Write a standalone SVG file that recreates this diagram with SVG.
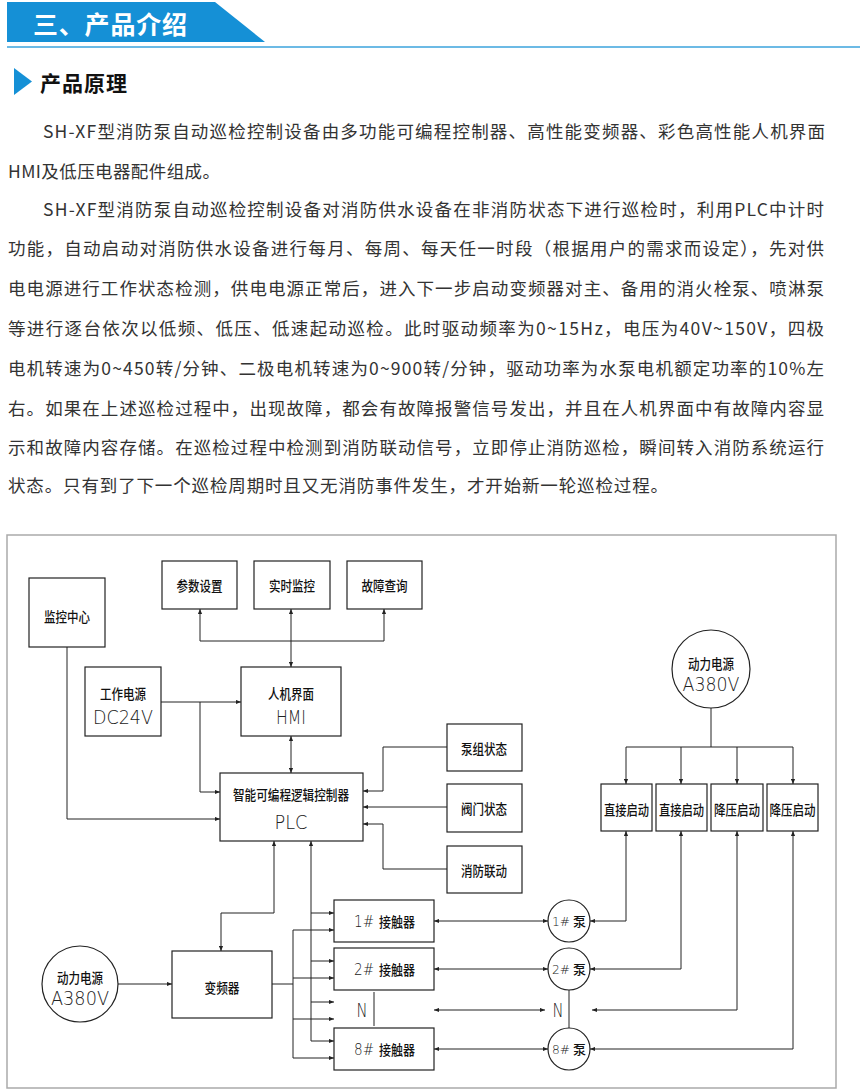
<svg xmlns="http://www.w3.org/2000/svg" width="860" height="1090" viewBox="0 0 860 1090">
<style>
.para{font-family:"Noto Sans CJK SC","Noto Sans",sans-serif;font-size:17.5px;fill:#333;dominant-baseline:central}
.box{fill:#fff;stroke:#222;stroke-width:1.2}
.cn{font-family:"Noto Sans CJK SC",sans-serif;font-size:14px;fill:#111;text-anchor:middle;dominant-baseline:central;font-weight:500}
.cs{font-family:"Noto Sans CJK SC",sans-serif;font-size:14px;fill:#111;dominant-baseline:central;font-weight:500}
.ps{font-family:"Noto Sans CJK SC",sans-serif;font-size:13px;fill:#111;dominant-baseline:central;font-weight:500}
.lat{font-family:"DejaVu Sans","Liberation Sans",sans-serif;font-size:20px;fill:#222;text-anchor:middle;dominant-baseline:central;font-weight:200}
.num{font-family:"DejaVu Sans","Liberation Sans",sans-serif;font-size:16px;fill:#222;dominant-baseline:central;font-weight:200}
.pn{font-family:"DejaVu Sans","Liberation Sans",sans-serif;font-size:13px;fill:#222;dominant-baseline:central;font-weight:200}
.ln{fill:none;stroke:#222;stroke-width:1}
</style>
<defs>
<marker id="ar" viewBox="0 0 6 6" markerWidth="6" markerHeight="5" refX="6" refY="3" orient="auto-start-reverse" markerUnits="userSpaceOnUse">
<path d="M0,0.5 L6,3 L0,5.5 z" fill="#222"/>
</marker>
</defs>
<rect width="860" height="1090" fill="#fff"/>
<g id="header">
<polygon points="7,2 215,2 265,42 7,42" fill="#1590d6"/>
<line x1="7" y1="47" x2="860" y2="47" stroke="#3ba3dc" stroke-width="1.6"/>
<text x="33" y="23" font-family="Noto Sans CJK SC,sans-serif" font-size="25" font-weight="bold" fill="#fff" dominant-baseline="central" textLength="154">三、产品介绍</text>
<polygon points="14,68 32,81.5 14,95" fill="#1590d6"/>
<text x="40" y="82" font-family="Noto Sans CJK SC,sans-serif" font-size="21" font-weight="bold" fill="#111" dominant-baseline="central" textLength="87">产品原理</text>
</g>
<g id="paragraph">
<text class="para" x="43" y="130" textLength="782" lengthAdjust="spacing">SH-XF型消防泵自动巡检控制设备由多功能可编程控制器、高性能变频器、彩色高性能人机界面</text>
<text class="para" x="8" y="170" textLength="212" lengthAdjust="spacing">HMI及低压电器配件组成。</text>
<text class="para" x="43" y="208" textLength="781" lengthAdjust="spacing">SH-XF型消防泵自动巡检控制设备对消防供水设备在非消防状态下进行巡检时，利用PLC中计时</text>
<text class="para" x="8" y="247" textLength="816" lengthAdjust="spacing">功能，自动启动对消防供水设备进行每月、每周、每天任一时段（根据用户的需求而设定），先对供</text>
<text class="para" x="8" y="287" textLength="816" lengthAdjust="spacing">电电源进行工作状态检测，供电电源正常后，进入下一步启动变频器对主、备用的消火栓泵、喷淋泵</text>
<text class="para" x="8" y="327" textLength="816" lengthAdjust="spacing">等进行逐台依次以低频、低压、低速起动巡检。此时驱动频率为0~15Hz，电压为40V~150V，四极</text>
<text class="para" x="8" y="367" textLength="816" lengthAdjust="spacing">电机转速为0~450转/分钟、二极电机转速为0~900转/分钟，驱动功率为水泵电机额定功率的10%左</text>
<text class="para" x="8" y="407" textLength="816" lengthAdjust="spacing">右。如果在上述巡检过程中，出现故障，都会有故障报警信号发出，并且在人机界面中有故障内容显</text>
<text class="para" x="8" y="446" textLength="816" lengthAdjust="spacing">示和故障内容存储。在巡检过程中检测到消防联动信号，立即停止消防巡检，瞬间转入消防系统运行</text>
<text class="para" x="8" y="484" textLength="660" lengthAdjust="spacing">状态。只有到了下一个巡检周期时且又无消防事件发生，才开始新一轮巡检过程。</text>
</g>
<rect id="frame" x="7" y="535" width="829" height="553" fill="none" stroke="#aaa" stroke-width="1.5"/>
<g id="connectors">
<line class="ln" x1="291" y1="609" x2="291" y2="667" marker-start="url(#ar)" marker-end="url(#ar)"/>
<polyline class="ln" points="200,609 200,641 384,641 384,609" marker-start="url(#ar)" marker-end="url(#ar)"/>
<line class="ln" x1="161" y1="702" x2="241" y2="702" marker-end="url(#ar)"/>
<polyline class="ln" points="200,702 200,792 220,792" marker-end="url(#ar)"/>
<polyline class="ln" points="67,647 67,819 220,819" marker-end="url(#ar)"/>
<line class="ln" x1="291" y1="736" x2="291" y2="773" marker-start="url(#ar)" marker-end="url(#ar)"/>
<polyline class="ln" points="447,747 383,747 383,791 363,791" marker-end="url(#ar)"/>
<line class="ln" x1="447" y1="807" x2="363" y2="807" marker-end="url(#ar)"/>
<polyline class="ln" points="447,869 383,869 383,824 363,824" marker-end="url(#ar)"/>
<polyline class="ln" points="274,841 274,913 221,913 221,951" marker-start="url(#ar)" marker-end="url(#ar)"/>
<polyline class="ln" points="311,841 311,1041 334,1041" marker-start="url(#ar)" marker-end="url(#ar)"/>
<line class="ln" x1="311" y1="913" x2="334" y2="913" marker-end="url(#ar)"/>
<line class="ln" x1="311" y1="961" x2="334" y2="961" marker-end="url(#ar)"/>
<line class="ln" x1="311" y1="1002" x2="334" y2="1002" marker-end="url(#ar)"/>
<line class="ln" x1="272" y1="984" x2="293" y2="984"/>
<line class="ln" x1="293" y1="930" x2="293" y2="1058"/>
<line class="ln" x1="293" y1="930" x2="334" y2="930" marker-end="url(#ar)"/>
<line class="ln" x1="293" y1="978" x2="334" y2="978" marker-end="url(#ar)"/>
<line class="ln" x1="293" y1="1019" x2="334" y2="1019" marker-end="url(#ar)"/>
<line class="ln" x1="293" y1="1058" x2="334" y2="1058" marker-end="url(#ar)"/>
<line class="ln" x1="118" y1="984" x2="172" y2="984" marker-end="url(#ar)"/>
<line class="ln" x1="434" y1="921" x2="548" y2="921" marker-start="url(#ar)" marker-end="url(#ar)"/>
<line class="ln" x1="434" y1="969" x2="548" y2="969" marker-start="url(#ar)" marker-end="url(#ar)"/>
<line class="ln" x1="434" y1="1010" x2="545" y2="1010" marker-start="url(#ar)" marker-end="url(#ar)"/>
<line class="ln" x1="434" y1="1049" x2="548" y2="1049" marker-start="url(#ar)" marker-end="url(#ar)"/>
<polyline class="ln" points="626,831 626,921 590,921" marker-start="url(#ar)" marker-end="url(#ar)"/>
<polyline class="ln" points="681,831 681,969 590,969" marker-start="url(#ar)" marker-end="url(#ar)"/>
<polyline class="ln" points="737,831 737,1010 592,1010" marker-start="url(#ar)" marker-end="url(#ar)"/>
<polyline class="ln" points="793,831 793,1049 590,1049" marker-start="url(#ar)" marker-end="url(#ar)"/>
<line class="ln" x1="711" y1="708" x2="711" y2="747"/>
<line class="ln" x1="626" y1="747" x2="793" y2="747"/>
<line class="ln" x1="626" y1="747" x2="626" y2="784" marker-end="url(#ar)"/>
<line class="ln" x1="681" y1="747" x2="681" y2="784" marker-end="url(#ar)"/>
<line class="ln" x1="737" y1="747" x2="737" y2="784" marker-end="url(#ar)"/>
<line class="ln" x1="793" y1="747" x2="793" y2="784" marker-end="url(#ar)"/>
<line class="ln" x1="374" y1="992" x2="374" y2="1026"/>
<line class="ln" x1="569" y1="990" x2="569" y2="1028"/>
</g>
<g id="n-param"><rect class="box" x="162" y="561" width="75" height="48"/><text class="cn" x="199.5" y="585" textLength="46" lengthAdjust="spacingAndGlyphs">参数设置</text></g>
<g id="n-monitor"><rect class="box" x="254" y="561" width="76" height="48"/><text class="cn" x="292" y="585" textLength="46" lengthAdjust="spacingAndGlyphs">实时监控</text></g>
<g id="n-fault"><rect class="box" x="347" y="561" width="75" height="48"/><text class="cn" x="384.5" y="585" textLength="46" lengthAdjust="spacingAndGlyphs">故障查询</text></g>
<g id="n-center"><rect class="box" x="29" y="578" width="76" height="69"/><text class="cn" x="67" y="616" textLength="46" lengthAdjust="spacingAndGlyphs">监控中心</text></g>
<g id="n-dc"><rect class="box" x="85" y="667" width="76" height="69"/><text class="cn" x="123" y="693" textLength="46" lengthAdjust="spacingAndGlyphs">工作电源</text><text class="lat" x="123" y="717" textLength="60" lengthAdjust="spacingAndGlyphs">DC24V</text></g>
<g id="n-hmi"><rect class="box" x="241" y="667" width="100" height="69"/><text class="cn" x="291" y="693" textLength="46" lengthAdjust="spacingAndGlyphs">人机界面</text><text class="lat" x="291" y="717" textLength="30" lengthAdjust="spacingAndGlyphs">HMI</text></g>
<g id="n-plc"><rect class="box" x="220" y="773" width="143" height="68"/><text class="cn" x="291" y="794" textLength="116" lengthAdjust="spacingAndGlyphs">智能可编程逻辑控制器</text><text class="lat" x="291" y="822" textLength="33" lengthAdjust="spacingAndGlyphs">PLC</text></g>
<g id="n-pumpstate"><rect class="box" x="447" y="724" width="75" height="47"/><text class="cn" x="484" y="748" textLength="46" lengthAdjust="spacingAndGlyphs">泵组状态</text></g>
<g id="n-valve"><rect class="box" x="447" y="784" width="75" height="48"/><text class="cn" x="484" y="808" textLength="46" lengthAdjust="spacingAndGlyphs">阀门状态</text></g>
<g id="n-fire"><rect class="box" x="447" y="846" width="75" height="47"/><text class="cn" x="484" y="870" textLength="46" lengthAdjust="spacingAndGlyphs">消防联动</text></g>
<g id="n-vfd"><rect class="box" x="172" y="951" width="100" height="67"/><text class="cn" x="222" y="987" textLength="35" lengthAdjust="spacingAndGlyphs">变频器</text></g>
<g id="n-power-left"><circle class="box" cx="80" cy="984" r="38"/><text class="cn" x="80" y="977" textLength="46" lengthAdjust="spacingAndGlyphs">动力电源</text><text class="lat" x="80" y="998" textLength="58" lengthAdjust="spacingAndGlyphs">A380V</text></g>
<g id="n-power-right"><circle class="box" cx="711" cy="669" r="39"/><text class="cn" x="711" y="663" textLength="46" lengthAdjust="spacingAndGlyphs">动力电源</text><text class="lat" x="711" y="684" textLength="57" lengthAdjust="spacingAndGlyphs">A380V</text></g>
<g id="n-k1"><rect class="box" x="334" y="900" width="100" height="42"/><text class="num" x="354" y="921" textLength="20" lengthAdjust="spacingAndGlyphs">1#</text><text class="cs" x="379" y="921" textLength="36" lengthAdjust="spacingAndGlyphs">接触器</text></g>
<g id="n-k2"><rect class="box" x="334" y="948" width="100" height="42"/><text class="num" x="354" y="969" textLength="20" lengthAdjust="spacingAndGlyphs">2#</text><text class="cs" x="379" y="969" textLength="36" lengthAdjust="spacingAndGlyphs">接触器</text></g>
<g id="n-kn"><text class="lat" x="362" y="1010" textLength="11" lengthAdjust="spacingAndGlyphs">N</text></g>
<g id="n-k8"><rect class="box" x="334" y="1028" width="100" height="42"/><text class="num" x="354" y="1049" textLength="20" lengthAdjust="spacingAndGlyphs">8#</text><text class="cs" x="379" y="1049" textLength="36" lengthAdjust="spacingAndGlyphs">接触器</text></g>
<g id="n-p1"><circle class="box" cx="569" cy="921" r="21"/><text class="pn" x="552" y="921" textLength="18" lengthAdjust="spacingAndGlyphs">1#</text><text class="ps" x="573" y="920" textLength="13" lengthAdjust="spacingAndGlyphs">泵</text></g>
<g id="n-p2"><circle class="box" cx="569" cy="969" r="21"/><text class="pn" x="552" y="969" textLength="18" lengthAdjust="spacingAndGlyphs">2#</text><text class="ps" x="573" y="968" textLength="13" lengthAdjust="spacingAndGlyphs">泵</text></g>
<g id="n-pn"><text class="lat" x="558" y="1010" textLength="11" lengthAdjust="spacingAndGlyphs">N</text></g>
<g id="n-p8"><circle class="box" cx="569" cy="1049" r="21"/><text class="pn" x="552" y="1049" textLength="18" lengthAdjust="spacingAndGlyphs">8#</text><text class="ps" x="573" y="1048" textLength="13" lengthAdjust="spacingAndGlyphs">泵</text></g>
<g id="n-s1"><rect class="box" x="601" y="784" width="51" height="47"/><text class="cn" x="626.5" y="809" textLength="45" lengthAdjust="spacingAndGlyphs">直接启动</text></g>
<g id="n-s2"><rect class="box" x="656" y="784" width="51" height="47"/><text class="cn" x="681.5" y="809" textLength="45" lengthAdjust="spacingAndGlyphs">直接启动</text></g>
<g id="n-s3"><rect class="box" x="711" y="784" width="52" height="47"/><text class="cn" x="737" y="809" textLength="46" lengthAdjust="spacingAndGlyphs">降压启动</text></g>
<g id="n-s4"><rect class="box" x="767" y="784" width="51" height="47"/><text class="cn" x="792.5" y="809" textLength="46" lengthAdjust="spacingAndGlyphs">降压启动</text></g>
</svg>
